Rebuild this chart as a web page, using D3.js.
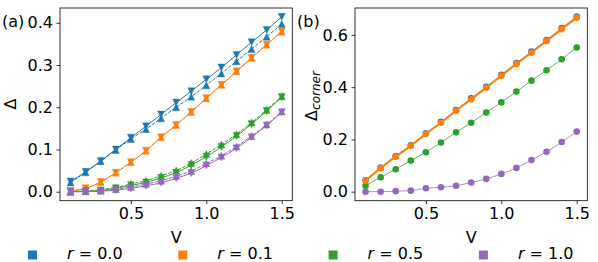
<!DOCTYPE html>
<html>
<head>
<meta charset="utf-8">
<script src="https://cdn.jsdelivr.net/npm/d3@7"></script>
<style>
  body { margin: 0; background: #fff; }
  text { font-family: "DejaVu Sans", sans-serif; }
</style>
</head>
<body>
<script>
// ---- data ----
const V = [0.1, 0.2, 0.3, 0.4, 0.5, 0.6, 0.7, 0.8, 0.9, 1.0, 1.1, 1.2, 1.3, 1.4, 1.5];
const rValues = ["0.0", "0.1", "0.5", "1.0"];
const colors = ["#1f77b4", "#ff7f0e", "#2ca02c", "#9467bd"];

// panel (a): gap, two estimates per r (down triangles on solid, up triangles on dashed)
const gapDown0 = [0.024, 0.047, 0.073, 0.100, 0.128, 0.155, 0.183, 0.211, 0.238, 0.266, 0.294, 0.324, 0.354, 0.383, 0.414];
const gapUp0   = [0.022, 0.046, 0.072, 0.099, 0.125, 0.148, 0.174, 0.200, 0.225, 0.252, 0.280, 0.309, 0.338, 0.367, 0.397];
const gapDown1 = [0.002, 0.008, 0.023, 0.045, 0.070, 0.097, 0.129, 0.158, 0.189, 0.221, 0.253, 0.285, 0.317, 0.348, 0.380];
const gapUp1   = [0.002, 0.008, 0.023, 0.045, 0.070, 0.097, 0.129, 0.158, 0.189, 0.221, 0.253, 0.285, 0.317, 0.348, 0.379];
const gapDown5 = [0.000, 0.001, 0.003, 0.008, 0.015, 0.022, 0.033, 0.045, 0.063, 0.083, 0.106, 0.132, 0.160, 0.191, 0.224];
const gapUp5   = [0.000, 0.002, 0.005, 0.010, 0.018, 0.026, 0.038, 0.050, 0.068, 0.089, 0.112, 0.136, 0.164, 0.194, 0.226];
const gapDown10 = [0.000, 0.000, 0.001, 0.004, 0.008, 0.014, 0.021, 0.032, 0.044, 0.062, 0.081, 0.103, 0.129, 0.157, 0.188];
const gapUp10   = [0.000, 0.001, 0.002, 0.006, 0.011, 0.018, 0.026, 0.037, 0.049, 0.067, 0.085, 0.107, 0.132, 0.159, 0.190];

// panel (b): corner gap
const corner0  = [0.044, 0.092, 0.136, 0.178, 0.223, 0.267, 0.312, 0.357, 0.401, 0.447, 0.492, 0.536, 0.580, 0.626, 0.670];
const corner1  = [0.042, 0.090, 0.134, 0.176, 0.221, 0.264, 0.310, 0.354, 0.398, 0.444, 0.489, 0.532, 0.577, 0.622, 0.666];
const corner5  = [0.023, 0.055, 0.086, 0.119, 0.151, 0.188, 0.227, 0.264, 0.303, 0.342, 0.383, 0.425, 0.465, 0.507, 0.552];
const corner10 = [0.000, 0.000, 0.002, 0.004, 0.013, 0.017, 0.023, 0.035, 0.049, 0.068, 0.091, 0.121, 0.153, 0.190, 0.230];

const xTicks = [0.5, 1.0, 1.5];
const yTicksA = [0.0, 0.1, 0.2, 0.3, 0.4];
const yTicksB = [0.0, 0.2, 0.4, 0.6];

// ---- layout ----
const width = 598, height = 262;
const plotTop = 8, plotBottom = 200.7;
const fs = 16;

const svg = d3.select("body").append("svg")
    .attr("width", width)
    .attr("height", height)
    .style("background", "#fff");

// matplotlib style triangles, centred on their bounding box
const tri = (s, dir) => `M0,${-dir * s}L${-s},${dir * s}L${s},${dir * s}Z`;

function makeAxes(left, right, yDomain, yTicks, tag) {
    const x = d3.scaleLinear().domain([0.03, 1.57]).range([left, right]);
    const y = d3.scaleLinear().domain(yDomain).range([plotBottom, plotTop]);

    svg.append("g")
       .attr("transform", `translate(0,${plotBottom})`)
       .call(d3.axisBottom(x).tickValues(xTicks).tickFormat(d3.format(".1f"))
             .tickSize(3.5).tickPadding(3.5).tickSizeOuter(0))
       .call(g => g.select(".domain").remove())
       .call(g => g.selectAll("line").attr("stroke", "#000").attr("stroke-width", 0.8))
       .call(g => g.selectAll("text").attr("font-size", fs).attr("font-family", "DejaVu Sans").attr("fill", "#000"));

    svg.append("g")
       .attr("transform", `translate(${left},0)`)
       .call(d3.axisLeft(y).tickValues(yTicks).tickFormat(d3.format(".1f"))
             .tickSize(3.5).tickPadding(3.5).tickSizeOuter(0))
       .call(g => g.select(".domain").remove())
       .call(g => g.selectAll("line").attr("stroke", "#000").attr("stroke-width", 0.8))
       .call(g => g.selectAll("text").attr("font-size", fs).attr("font-family", "DejaVu Sans").attr("fill", "#000"));

    // frame
    svg.append("rect")
       .attr("x", left).attr("y", plotTop)
       .attr("width", right - left).attr("height", plotBottom - plotTop)
       .attr("fill", "none").attr("stroke", "#000").attr("stroke-width", 0.8);

    // x label
    svg.append("text")
       .attr("x", (left + right) / 2).attr("y", 243)
       .attr("text-anchor", "middle").attr("font-size", fs)
       .text("V");

    // panel tag
    svg.append("text")
       .attr("x", left - 58).attr("y", 27)
       .attr("font-size", fs)
       .text(tag);

    return { x, y };
}

// ---- panel (a) ----
const A = makeAxes(60, 292.3, [-0.0213, 0.435], yTicksA, "(a)");

svg.append("text")
   .attr("transform", `translate(15.5,104) rotate(-90)`)
   .attr("text-anchor", "middle").attr("font-size", fs)
   .text("Δ");

const seriesA = [
    { vals: gapUp0,    c: 0, dash: "3.5,1.5", dir: 1 },
    { vals: gapDown0,  c: 0, dash: null,      dir: -1 },
    { vals: gapUp1,    c: 1, dash: "3.5,1.5", dir: 1 },
    { vals: gapDown1,  c: 1, dash: null,      dir: -1 },
    { vals: gapUp5,    c: 2, dash: "3.5,1.5", dir: 1 },
    { vals: gapDown5,  c: 2, dash: null,      dir: -1 },
    { vals: gapUp10,   c: 3, dash: "3.5,1.5", dir: 1 },
    { vals: gapDown10, c: 3, dash: null,      dir: -1 }
];

const lineA = d3.line()
    .x((d, i) => A.x(V[i]))
    .y(d => A.y(d))
    .curve(d3.curveMonotoneX);

seriesA.forEach(s => {
    svg.append("path")
       .datum(s.vals)
       .attr("fill", "none")
       .attr("stroke", colors[s.c])
       .attr("stroke-width", 1)
       .attr("stroke-dasharray", s.dash)
       .attr("d", lineA);

    svg.append("g").selectAll("path")
       .data(s.vals)
       .join("path")
       .attr("transform", (d, i) => `translate(${A.x(V[i])},${A.y(d)})`)
       .attr("d", tri(3.5, s.dir))
       .attr("fill", colors[s.c])
       .attr("stroke", colors[s.c])
       .attr("stroke-opacity", 0.4)
       .attr("stroke-width", 1);
});

// ---- panel (b) ----
const B = makeAxes(355, 587.3, [-0.0345, 0.703], yTicksB, "(b)");

const yLabB = svg.append("text")
   .attr("transform", `translate(317,96) rotate(-90)`)
   .attr("text-anchor", "middle").attr("font-size", fs);
yLabB.append("tspan").text("Δ");
yLabB.append("tspan").attr("font-size", 12).attr("font-style", "italic")
     .attr("dy", 3).text("corner");

const seriesB = [
    { vals: corner10, c: 3, w: 1 },
    { vals: corner5,  c: 2, w: 1 },
    { vals: corner0,  c: 0, w: 1 },
    { vals: corner1,  c: 1, w: 2 }
];

const lineB = d3.line()
    .x((d, i) => B.x(V[i]))
    .y(d => B.y(d))
    .curve(d3.curveMonotoneX);

seriesB.forEach(s => {
    svg.append("path")
       .datum(s.vals)
       .attr("fill", "none")
       .attr("stroke", colors[s.c])
       .attr("stroke-opacity", s.w > 1 ? 1 : 0.75)
       .attr("stroke-width", s.w)
       .attr("d", lineB);

    svg.append("g").selectAll("circle")
       .data(s.vals)
       .join("circle")
       .attr("cx", (d, i) => B.x(V[i]))
       .attr("cy", d => B.y(d))
       .attr("r", 3.3)
       .attr("fill", colors[s.c]);
});

// ---- legend ----
const legend = svg.append("g");
rValues.forEach((r, i) => {
    const lx = 28 + i * 150.3;
    legend.append("rect")
          .attr("x", lx).attr("y", 250.5)
          .attr("width", 9).attr("height", 9)
          .attr("fill", colors[i]);
    const t = legend.append("text")
          .attr("x", lx + 39).attr("y", 259)
          .attr("font-size", fs);
    t.append("tspan").attr("font-style", "italic").text("r");
    t.append("tspan").text(" = " + r);
});
</script>
</body>
</html>
